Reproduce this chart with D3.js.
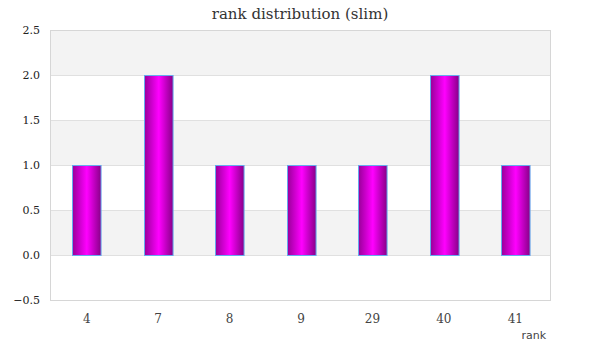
<!DOCTYPE html>
<html><head><meta charset="utf-8">
<script src="https://cdn.jsdelivr.net/npm/d3@7"></script>
<style>body{margin:0;background:#fff}</style>
</head><body>
<svg id="c" width="600" height="360"></svg>
<script>
const categories = ["4","7","8","9","29","40","41"];
const values = [1,2,1,1,1,2,1];
const yTicks = [-0.5,0,0.5,1,1.5,2,2.5];
const title = "rank distribution (slim)";
const xTitle = "rank";

const svg = d3.select("#c");
const m = {l:50, r:50, t:30, b:60};
const W = 600, H = 360;
const x = d3.scaleBand().domain(categories).range([m.l, W-m.r]).paddingInner(0.6).paddingOuter(0.3);
const y = d3.scaleLinear().domain([-0.5,2.5]).range([H-m.b, m.t]);

const defs = svg.append("defs");
const g = defs.append("linearGradient").attr("id","bg").attr("x1","0").attr("x2","1").attr("y1","0").attr("y2","0");
g.append("stop").attr("offset","0%").attr("stop-color","#990099");
g.append("stop").attr("offset","50%").attr("stop-color","#ff00ff");
g.append("stop").attr("offset","100%").attr("stop-color","#880088");

for (let i=0;i<yTicks.length-1;i++){
  const lo=yTicks[i], hi=yTicks[i+1];
  svg.append("rect").attr("x",m.l).attr("width",W-m.l-m.r)
    .attr("y",y(hi)).attr("height",y(lo)-y(hi))
    .attr("fill", (yTicks.length-2-i)%2===0 ? "#f3f3f3" : "#ffffff");
}
svg.append("g").selectAll("line").data(yTicks).join("line")
  .attr("x1",m.l).attr("x2",W-m.r).attr("y1",d=>y(d)+0.5).attr("y2",d=>y(d)+0.5)
  .attr("stroke","#e0e0e0");
svg.append("rect").attr("x",m.l+0.5).attr("y",m.t+0.5).attr("width",W-m.l-m.r).attr("height",H-m.t-m.b)
  .attr("fill","none").attr("stroke","#d6d6d6");

svg.append("g").selectAll("rect").data(values).join("rect")
  .attr("x",(d,i)=>Math.round(x(categories[i]))+1.5)
  .attr("width",x.bandwidth())
  .attr("y",d=>y(d)+0.5)
  .attr("height",d=>y(0)-y(d))
  .attr("fill","url(#bg)").attr("stroke","#66aaee").attr("stroke-width",1);

const ya = d3.axisLeft(y).tickValues(yTicks).tickFormat(d3.format(".1f")).tickSize(0).tickPadding(8);
const yg = svg.append("g").attr("transform",`translate(${m.l-2},0)`).call(ya);
yg.select(".domain").remove();
yg.selectAll("text").attr("font-family","'DejaVu Serif', serif").attr("font-size",11).attr("fill","#222");

const xa = d3.axisBottom(x).tickSize(0).tickPadding(14);
const xg = svg.append("g").attr("transform",`translate(1,${H-m.b})`).call(xa);
xg.select(".domain").remove();
xg.selectAll("text").attr("font-family","'DejaVu Serif', serif").attr("font-size",12).attr("fill","#444");

svg.append("text").attr("x",300).attr("y",19).attr("text-anchor","middle")
  .attr("font-family","'DejaVu Serif', serif").attr("font-size",15).attr("fill","#333").text(title);
svg.append("text").attr("x",546).attr("y",339).attr("text-anchor","end")
  .attr("font-family","'DejaVu Sans', sans-serif").attr("font-size",11).attr("fill","#444").text(xTitle);
</script>
</body></html>
